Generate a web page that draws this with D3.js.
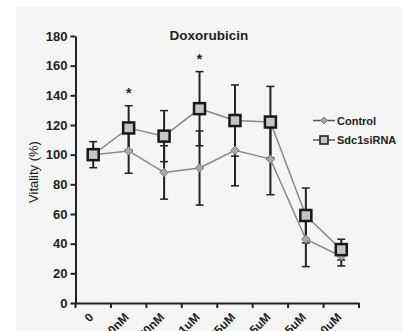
<!DOCTYPE html>
<html lang="en">
<head>
    <script src="https://d3js.org/d3.v7.min.js"></script>
</head>
<style>
    body { margin: 0; background: #fff; }
    text { font-family: Arial, "Liberation Sans", sans-serif; }
</style>
<body>
<script>
    const w = 402
    const h = 331

    // data
    const doses = ["0", "10nM", "50nM", "0.1uM", "0.25uM", "0.5uM", "2.5uM", "10uM"]
    const control = [100, 102.5, 88, 91, 103, 97, 43, 31.5]
    const controlErr = [0, 15, 18, 25, 24, 24, 18.5, 6.5]
    const sdc1 = [100, 118, 112.5, 131, 123, 122, 59, 36]
    const sdc1Err = [8.8, 15, 17.2, 25, 24, 24, 18.5, 7]
    const starred = [1, 3]
    const yTicks = [0, 20, 40, 60, 80, 100, 120, 140, 160, 180]

    var svg = d3.select("body")
        .append("svg")
        .attr("width", w)
        .attr("height", h);

    // grey panel
    svg.append("rect")
        .attr("x", 16).attr("y", 7)
        .attr("width", w - 16).attr("height", h - 7)
        .attr("fill", "#f5f5f5");

    let x = d3.scaleBand()
        .domain(doses)
        .range([75.5, 359])

    let y = d3.scaleLinear()
        .domain([0, 180])
        .range([303, 36])

    const cx = d => x(d) + x.bandwidth() / 2

    // y axis
    const yAxis = svg.append("g")
        .attr("transform", "translate(75.5,0)")
        .call(d3.axisLeft(y).tickValues(yTicks).tickSize(5).tickSizeOuter(0))
    yAxis.select(".domain").attr("stroke", "#222").attr("stroke-width", 2)
    yAxis.selectAll(".tick line").attr("stroke", "#222").attr("stroke-width", 2)
    yAxis.selectAll(".tick text")
        .attr("font-size", 13).attr("font-weight", "bold").attr("fill", "#222")
        .attr("x", -8)

    // x axis
    const xAxis = svg.append("g")
        .attr("transform", "translate(0,303)")
        .call(d3.axisBottom(x).tickSize(0).tickSizeOuter(0))
    xAxis.select(".domain").attr("stroke", "#222").attr("stroke-width", 2)
    xAxis.selectAll(".tick text")
        .attr("font-size", 12).attr("font-weight", "bold").attr("fill", "#222")
        .attr("text-anchor", "end")
        .attr("dy", 0).attr("y", 0)
        .attr("transform", "translate(1,15) rotate(-45)")
    // tick marks on band edges
    svg.selectAll(".xtick")
        .data(doses.concat(["end"]))
        .enter()
        .append("line")
        .attr("x1", (d, i) => i < doses.length ? x(d) : x.range()[1])
        .attr("x2", (d, i) => i < doses.length ? x(d) : x.range()[1])
        .attr("y1", 303).attr("y2", 308)
        .attr("stroke", "#222").attr("stroke-width", 2)

    // title
    svg.append("text")
        .attr("x", 209).attr("y", 40)
        .attr("text-anchor", "middle")
        .attr("font-size", 13.5).attr("font-weight", "bold").attr("fill", "#222")
        .text("Doxorubicin")

    svg.append("text")
        .attr("transform", "translate(38,172) rotate(-90)")
        .attr("text-anchor", "middle")
        .attr("font-size", 13).attr("fill", "#222")
        .text("Vitality (%)")

    // error bars
    function errBars(vals, errs) {
        const g = svg.append("g")
        vals.forEach((v, i) => {
            if (!errs[i]) return
            const xc = cx(doses[i])
            g.append("line")
                .attr("x1", xc).attr("x2", xc)
                .attr("y1", y(v - errs[i])).attr("y2", y(v + errs[i]))
                .attr("stroke", "#222").attr("stroke-width", 2)
            ;[v - errs[i], v + errs[i]].forEach(e => {
                g.append("line")
                    .attr("x1", xc - 4).attr("x2", xc + 4)
                    .attr("y1", y(e)).attr("y2", y(e))
                    .attr("stroke", "#222").attr("stroke-width", 1.5)
            })
        })
    }
    errBars(control, controlErr)
    errBars(sdc1, sdc1Err)

    const line = d3.line()
        .x((d, i) => cx(doses[i]))
        .y(d => y(d))

    svg.append("path").datum(control).attr("d", line)
        .attr("fill", "none").attr("stroke", "#8a8a8a").attr("stroke-width", 1.5)
    svg.append("path").datum(sdc1).attr("d", line)
        .attr("fill", "none").attr("stroke", "#8a8a8a").attr("stroke-width", 1.5)

    const diamond = d3.symbol().type(d3.symbolDiamond2).size(45)

    svg.selectAll(".ctl")
        .data(control)
        .enter()
        .append("path")
        .attr("d", diamond)
        .attr("transform", (d, i) => "translate(" + cx(doses[i]) + "," + y(d) + ")")
        .attr("fill", "#a8a8a8").attr("stroke", "#777").attr("stroke-width", 1)

    svg.selectAll(".sdc")
        .data(sdc1)
        .enter()
        .append("rect")
        .attr("x", (d, i) => cx(doses[i]) - 5.5)
        .attr("y", d => y(d) - 5.5)
        .attr("width", 11).attr("height", 11)
        .attr("fill", "#c4c4c4").attr("stroke", "#1a1a1a").attr("stroke-width", 2.5)

    // significance stars
    svg.selectAll(".star")
        .data(starred)
        .enter()
        .append("text")
        .attr("x", d => cx(doses[d]))
        .attr("y", d => y(sdc1[d] + sdc1Err[d]) - 8)
        .attr("text-anchor", "middle")
        .attr("font-size", 14).attr("font-weight", "bold").attr("fill", "#222")
        .text("*")

    // legend
    const leg = svg.append("g").attr("transform", "translate(313,0)")
    const legItems = [["Control", 120.5], ["Sdc1siRNA", 140]]
    legItems.forEach((it, i) => {
        leg.append("line").attr("x1", 0).attr("x2", 22)
            .attr("y1", it[1]).attr("y2", it[1])
            .attr("stroke", "#555").attr("stroke-width", 1.5)
        if (i == 0) {
            leg.append("path").attr("d", d3.symbol().type(d3.symbolDiamond2).size(30))
                .attr("transform", "translate(11," + it[1] + ")")
                .attr("fill", "#a8a8a8").attr("stroke", "#777")
        } else {
            leg.append("rect").attr("x", 7).attr("y", it[1] - 4)
                .attr("width", 8).attr("height", 8)
                .attr("fill", "#c4c4c4").attr("stroke", "#1a1a1a").attr("stroke-width", 1.5)
        }
        leg.append("text").attr("x", 24).attr("y", it[1] + 4)
            .attr("font-size", 11).attr("font-weight", "bold").attr("fill", "#222")
            .text(it[0])
    })
</script>
</body>
</html>
